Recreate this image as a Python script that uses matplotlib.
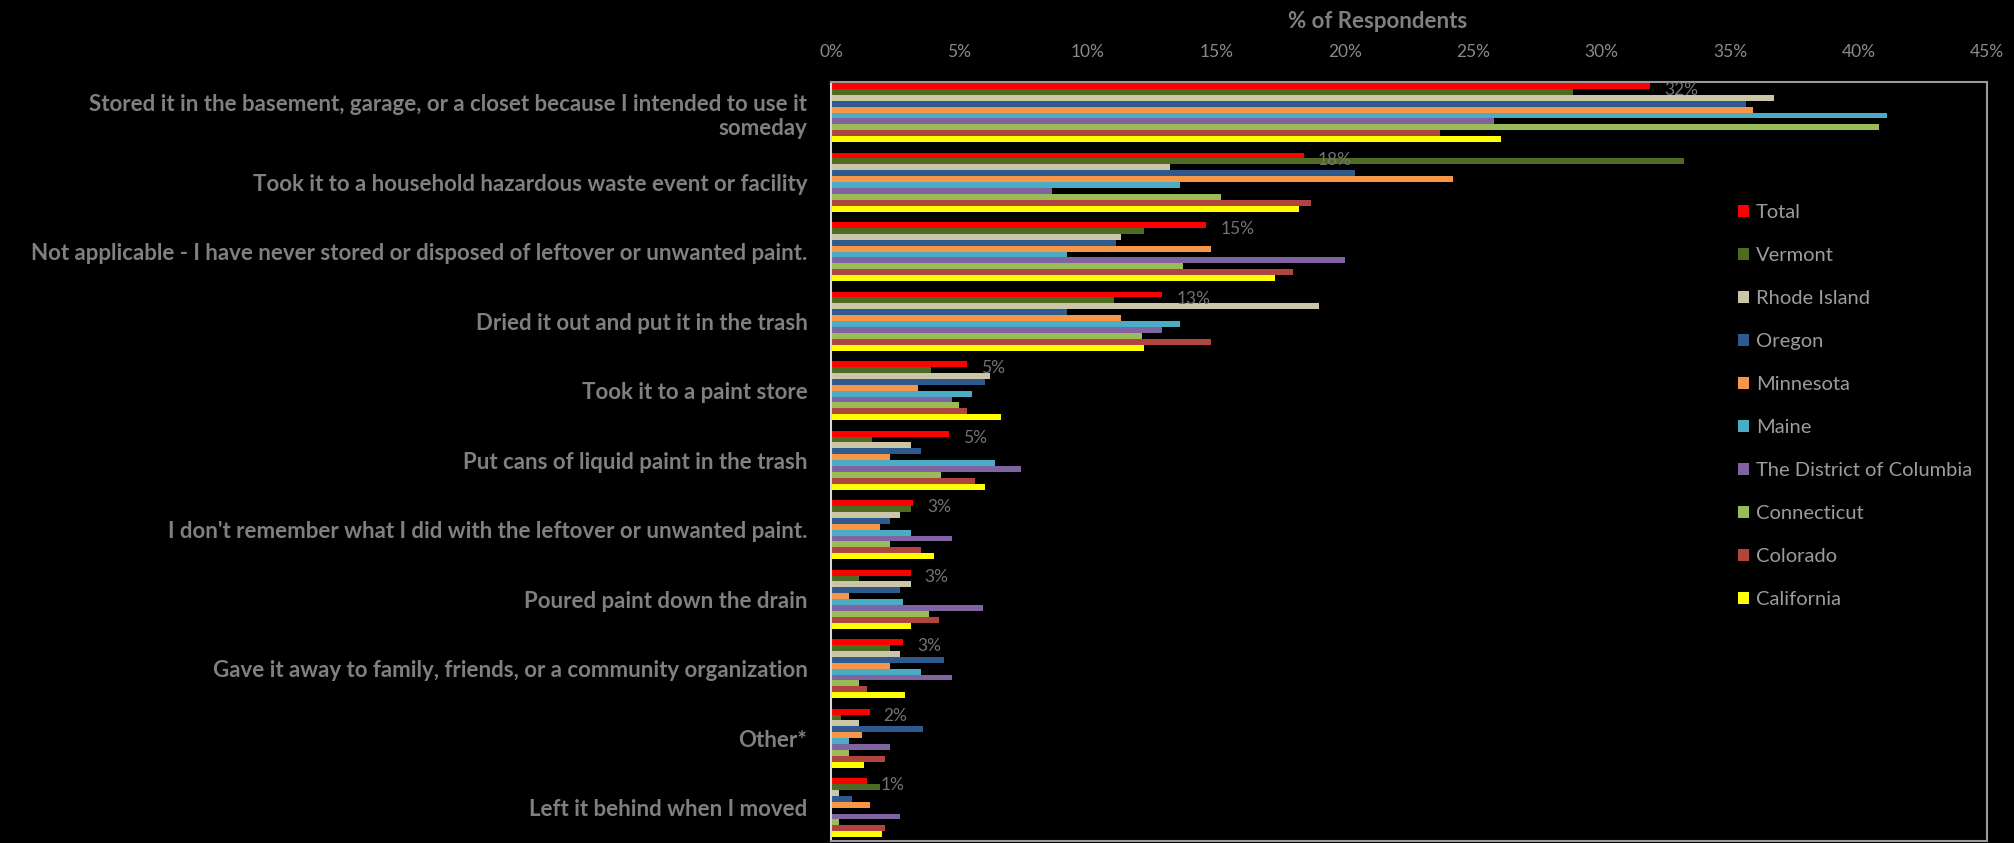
"""
Grouped horizontal bar chart: what respondents did with leftover paint.
"""

import matplotlib.pyplot as plt
import numpy as np

# categories (top to bottom)
categories = [
    "Stored it in the basement, garage, or a closet because I intended to use it\nsomeday",
    "Took it to a household hazardous waste event or facility",
    "Not applicable - I have never stored or disposed of leftover or unwanted paint.",
    "Dried it out and put it in the trash",
    "Took it to a paint store",
    "Put cans of liquid paint in the trash",
    "I don't remember what I did with the leftover or unwanted paint.",
    "Poured paint down the drain",
    "Gave it away to family, friends, or a community organization",
    "Other*",
    "Left it behind when I moved",
]

# % of respondents per series, same order as categories
total = [31.9, 18.4, 14.6, 12.9, 5.3, 4.6, 3.2, 3.1, 2.8, 1.5, 1.4]
vermont = [28.9, 33.2, 12.2, 11.0, 3.9, 1.6, 3.1, 1.1, 2.3, 0.4, 1.9]
rhode_island = [36.7, 13.2, 11.3, 19.0, 6.2, 3.1, 2.7, 3.1, 2.7, 1.1, 0.3]
oregon = [35.6, 20.4, 11.1, 9.2, 6.0, 3.5, 2.3, 2.7, 4.4, 3.6, 0.8]
minnesota = [35.9, 24.2, 14.8, 11.3, 3.4, 2.3, 1.9, 0.7, 2.3, 1.2, 1.5]
maine = [41.1, 13.6, 9.2, 13.6, 5.5, 6.4, 3.1, 2.8, 3.5, 0.7, 0.0]
dc = [25.8, 8.6, 20.0, 12.9, 4.7, 7.4, 4.7, 5.9, 4.7, 2.3, 2.7]
connecticut = [40.8, 15.2, 13.7, 12.1, 5.0, 4.3, 2.3, 3.8, 1.1, 0.7, 0.3]
colorado = [23.7, 18.7, 18.0, 14.8, 5.3, 5.6, 3.5, 4.2, 1.4, 2.1, 2.1]
california = [26.1, 18.2, 17.3, 12.2, 6.6, 6.0, 4.0, 3.1, 2.9, 1.3, 2.0]

series_names = ["Total", "Vermont", "Rhode Island", "Oregon", "Minnesota", "Maine",
                "The District of Columbia", "Connecticut", "Colorado", "California"]
series_values = [total, vermont, rhode_island, oregon, minnesota, maine,
                 dc, connecticut, colorado, california]
series_colors = ["#ff0000", "#4f6b22", "#cbc6aa", "#2e5a8e", "#f79646", "#4bacc6",
                 "#8064a2", "#9bbb59", "#b0443f", "#ffff00"]

x_ticks = list(range(0, 50, 5))

FONT = "Lato"
TEXT_GRAY = "#808080"

W, H = 2014, 843
fig = plt.figure(figsize=(W / 100, H / 100), dpi=100, facecolor="black")
ax = fig.add_axes([831 / W, 2 / H, (1987 - 831) / W, (841 - 82) / H])
ax.set_facecolor("black")

# bars: 10 series stacked inside each category slot
n = len(series_names)
bar_h = 5.9 / 69.5
ypos = np.arange(len(categories))
for j, (name, vals, col) in enumerate(zip(series_names, series_values, series_colors)):
    ax.barh(ypos + (j - (n - 1) / 2) * bar_h, vals, height=bar_h,
            color=col, label=name, linewidth=0)

# data labels on the Total series
for i, v in enumerate(total):
    ax.text(v + 0.55, i - (n - 1) / 2 * bar_h + 0.06, f"{v:.0f}%",
            va="center", ha="left", color="#737373", fontsize=12.5, family=FONT)

ax.set_xlim(0, 45)
ax.set_ylim(10.48, -0.44)

# percentage axis on top
ax.xaxis.tick_top()
ax.set_xticks(x_ticks)
ax.set_xticklabels([f"{t}%" for t in x_ticks], color="#8a8a8a", fontsize=12.5, family=FONT)
ax.tick_params(axis="x", length=0, pad=16)

ax.set_yticks(ypos)
ax.set_yticklabels(categories, color=TEXT_GRAY, fontsize=16, family=FONT,
                   fontweight="bold", ha="right")
ax.tick_params(axis="y", length=0, pad=17)

for side in ["top", "right", "bottom"]:
    ax.spines[side].set_color("#9a9a9a")
    ax.spines[side].set_linewidth(1.5)
ax.spines["left"].set_color("#d9d9d9")
ax.spines["left"].set_linewidth(1.5)

fig.text(1378 / W, 1 - 21 / H, "% of Respondents", ha="center", va="center",
         color=TEXT_GRAY, fontsize=16, fontweight="bold", family=FONT)

leg = ax.legend(loc="upper left", bbox_to_anchor=(1728 / W, 1 - 194 / H),
                bbox_transform=fig.transFigure, frameon=False,
                handlelength=0.55, handleheight=0.55, handletextpad=0.35,
                labelspacing=1.29, borderpad=0, prop={"family": FONT, "size": 14.5})
for t in leg.get_texts():
    t.set_color("#9c9c9c")

plt.savefig("out.png", dpi=100, facecolor="black")
plt.close()
